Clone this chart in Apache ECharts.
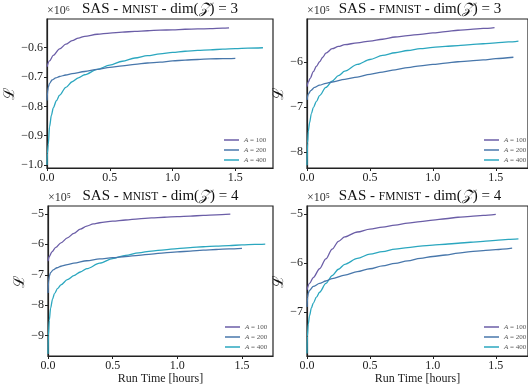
<!DOCTYPE html>
<html>
<head>
<meta charset="utf-8">
<script src="https://cdn.jsdelivr.net/npm/echarts@6/dist/echarts.min.js"></script>
<style>
  html, body { margin: 0; padding: 0; background: #fff; }
  #chart { width: 528px; height: 387px; }
</style>
</head>
<body>
<div id="chart"></div>
<script>
// Run time in hours, loss in units of the panel multiplier (x10^6 or x10^5)
const MNIST3_T100 = [0, 0.02, 0.05, 0.1, 0.15, 0.2, 0.25, 0.3, 0.4, 0.5, 0.6, 0.7, 0.8, 0.9, 1.0, 1.1, 1.2, 1.3, 1.4, 1.45];
const MNIST3_L100 = [-0.665, -0.645, -0.626, -0.604, -0.588, -0.576, -0.567, -0.561, -0.554, -0.550, -0.547, -0.544, -0.542, -0.540, -0.539, -0.537, -0.536, -0.535, -0.533, -0.532];
const MNIST3_T200 = [0, 0.005, 0.01, 0.02, 0.04, 0.07, 0.1, 0.15, 0.2, 0.3, 0.4, 0.5, 0.6, 0.7, 0.8, 0.9, 1.0, 1.1, 1.2, 1.3, 1.4, 1.5];
const MNIST3_L200 = [-0.78, -0.75, -0.735, -0.722, -0.71, -0.703, -0.698, -0.693, -0.688, -0.681, -0.674, -0.667, -0.662, -0.657, -0.652, -0.649, -0.645, -0.642, -0.640, -0.638, -0.637, -0.636];
const MNIST3_T400 = [0, 0.003, 0.01, 0.02, 0.035, 0.05, 0.075, 0.1, 0.15, 0.2, 0.25, 0.3, 0.4, 0.5, 0.6, 0.7, 0.8, 0.9, 1.0, 1.1, 1.2, 1.3, 1.4, 1.5, 1.6, 1.72];
const MNIST3_L400 = [-1.0, -0.96, -0.93, -0.87, -0.83, -0.805, -0.78, -0.762, -0.735, -0.716, -0.703, -0.692, -0.674, -0.659, -0.646, -0.635, -0.627, -0.621, -0.616, -0.612, -0.609, -0.607, -0.605, -0.603, -0.601, -0.600];

const FMNIST3_T100 = [0, 0.01, 0.025, 0.05, 0.075, 0.1, 0.125, 0.15, 0.2, 0.25, 0.3, 0.4, 0.5, 0.6, 0.7, 0.8, 0.9, 1.0, 1.1, 1.2, 1.3, 1.4, 1.49];
const FMNIST3_L100 = [-6.55, -6.45, -6.37, -6.22, -6.1, -6.0, -5.9, -5.81, -5.71, -5.66, -5.62, -5.58, -5.54, -5.50, -5.45, -5.42, -5.39, -5.36, -5.33, -5.30, -5.28, -5.26, -5.24];
const FMNIST3_T200 = [0, 0.01, 0.03, 0.06, 0.1, 0.15, 0.2, 0.3, 0.4, 0.5, 0.6, 0.7, 0.8, 0.9, 1.0, 1.1, 1.2, 1.3, 1.4, 1.5, 1.64];
const FMNIST3_L200 = [-6.85, -6.72, -6.64, -6.57, -6.52, -6.48, -6.45, -6.39, -6.34, -6.28, -6.23, -6.18, -6.13, -6.09, -6.06, -6.03, -6.00, -5.98, -5.96, -5.93, -5.90];
const FMNIST3_T400 = [0, 0.005, 0.01, 0.02, 0.035, 0.05, 0.075, 0.1, 0.15, 0.2, 0.25, 0.3, 0.4, 0.5, 0.6, 0.7, 0.8, 0.9, 1.0, 1.1, 1.2, 1.3, 1.4, 1.5, 1.6, 1.68];
const FMNIST3_L400 = [-8.3, -7.8, -7.55, -7.36, -7.15, -7.02, -6.88, -6.75, -6.57, -6.43, -6.31, -6.21, -6.06, -5.95, -5.86, -5.80, -5.75, -5.71, -5.68, -5.66, -5.64, -5.62, -5.60, -5.58, -5.56, -5.54];

const MNIST4_T100 = [0, 0.01, 0.03, 0.06, 0.1, 0.15, 0.2, 0.25, 0.3, 0.35, 0.4, 0.5, 0.6, 0.7, 0.8, 0.9, 1.0, 1.1, 1.2, 1.3, 1.41];
const MNIST4_L100 = [-6.55, -6.4, -6.25, -6.1, -5.95, -5.79, -5.64, -5.5, -5.4, -5.33, -5.29, -5.24, -5.2, -5.16, -5.13, -5.11, -5.09, -5.07, -5.05, -5.03, -5.01];
const MNIST4_T200 = [0, 0.005, 0.01, 0.02, 0.04, 0.07, 0.1, 0.15, 0.2, 0.3, 0.4, 0.5, 0.6, 0.7, 0.8, 0.9, 1.0, 1.1, 1.2, 1.3, 1.4, 1.5];
const MNIST4_L200 = [-7.6, -7.2, -7.05, -6.93, -6.84, -6.77, -6.72, -6.67, -6.62, -6.54, -6.48, -6.44, -6.40, -6.36, -6.32, -6.28, -6.25, -6.22, -6.19, -6.17, -6.15, -6.13];
const MNIST4_T400 = [0, 0.003, 0.01, 0.02, 0.035, 0.05, 0.075, 0.1, 0.15, 0.2, 0.25, 0.3, 0.4, 0.5, 0.6, 0.7, 0.8, 0.9, 1.0, 1.1, 1.2, 1.3, 1.4, 1.5, 1.6, 1.68];
const MNIST4_L400 = [-9.6, -9.0, -8.5, -8.1, -7.8, -7.62, -7.45, -7.33, -7.16, -7.03, -6.91, -6.80, -6.62, -6.47, -6.36, -6.28, -6.22, -6.18, -6.14, -6.11, -6.08, -6.06, -6.04, -6.02, -6.0, -5.99];

const FMNIST4_T100 = [0, 0.02, 0.05, 0.1, 0.15, 0.2, 0.25, 0.3, 0.4, 0.5, 0.6, 0.7, 0.8, 0.9, 1.0, 1.1, 1.2, 1.3, 1.4, 1.5];
const FMNIST4_L100 = [-6.55, -6.42, -6.3, -6.12, -5.92, -5.72, -5.56, -5.47, -5.37, -5.31, -5.27, -5.23, -5.19, -5.16, -5.13, -5.10, -5.07, -5.05, -5.03, -5.01];
const FMNIST4_T200 = [0, 0.005, 0.01, 0.02, 0.05, 0.1, 0.15, 0.2, 0.3, 0.4, 0.5, 0.6, 0.7, 0.8, 0.9, 1.0, 1.1, 1.2, 1.3, 1.4, 1.5, 1.63];
const FMNIST4_L200 = [-6.9, -6.7, -6.62, -6.56, -6.48, -6.42, -6.37, -6.32, -6.25, -6.18, -6.12, -6.06, -6.01, -5.96, -5.91, -5.87, -5.84, -5.80, -5.77, -5.75, -5.73, -5.70];
const FMNIST4_T400 = [0, 0.003, 0.01, 0.02, 0.035, 0.05, 0.075, 0.1, 0.15, 0.2, 0.25, 0.3, 0.4, 0.5, 0.6, 0.7, 0.8, 0.9, 1.0, 1.1, 1.2, 1.3, 1.4, 1.5, 1.6, 1.68];
const FMNIST4_L400 = [-7.85, -7.5, -7.25, -7.08, -6.92, -6.82, -6.7, -6.6, -6.42, -6.26, -6.13, -6.03, -5.91, -5.82, -5.77, -5.72, -5.69, -5.66, -5.64, -5.62, -5.6, -5.58, -5.56, -5.54, -5.52, -5.51];

const SERIES_NAMES = ['A = 100', 'A = 200', 'A = 400'];
const X_TICKS = [0, 0.5, 1.0, 1.5];
const MNIST3_YTICKS = [-1.0, -0.9, -0.8, -0.7, -0.6];
const FMNIST3_YTICKS = [-8, -7, -6];
const MNIST4_YTICKS = [-9, -8, -7, -6, -5];
const FMNIST4_YTICKS = [-7, -6, -5];

const COLORS = ['#6b5ea7', '#4877ab', '#2ba7bf'];
const SERIF = "'Liberation Serif', 'DejaVu Serif', serif";

const panels = [
  { ds: 'MNIST', dim: 3, mult: '6', rect: { left: 47, top: 19, width: 226, height: 149 },
    xMax: 1.80, yMin: -1.01, yMax: -0.502, yTicks: MNIST3_YTICKS, dec: 1, nameGap: 27, xName: false,
    runs: [[MNIST3_T100, MNIST3_L100], [MNIST3_T200, MNIST3_L200], [MNIST3_T400, MNIST3_L400]] },
  { ds: 'FMNIST', dim: 3, mult: '5', rect: { left: 307, top: 19, width: 226, height: 149 },
    xMax: 1.756, yMin: -8.36, yMax: -5.05, yTicks: FMNIST3_YTICKS, dec: 0, nameGap: 19, xName: false,
    runs: [[FMNIST3_T100, FMNIST3_L100], [FMNIST3_T200, FMNIST3_L200], [FMNIST3_T400, FMNIST3_L400]] },
  { ds: 'MNIST', dim: 4, mult: '5', rect: { left: 48, top: 206, width: 225, height: 150 },
    xMax: 1.74, yMin: -9.67, yMax: -4.74, yTicks: MNIST4_YTICKS, dec: 0, nameGap: 20, xName: true,
    runs: [[MNIST4_T100, MNIST4_L100], [MNIST4_T200, MNIST4_L200], [MNIST4_T400, MNIST4_L400]] },
  { ds: 'FMNIST', dim: 4, mult: '5', rect: { left: 307, top: 206, width: 226, height: 150 },
    xMax: 1.756, yMin: -7.9, yMax: -4.84, yTicks: FMNIST4_YTICKS, dec: 0, nameGap: 17, xName: true,
    runs: [[FMNIST4_T100, FMNIST4_L100], [FMNIST4_T200, FMNIST4_L200], [FMNIST4_T400, FMNIST4_L400]] },
];

const fmt = (v, dec) => (v < 0 ? '\u2212' : '') + Math.abs(v).toFixed(dec);

const chart = echarts.init(document.getElementById('chart'), null, { renderer: 'canvas' });

const option = {
  backgroundColor: '#fff',
  animation: false,
  title: panels.map(p => ({
    text: `SAS - {sc|${p.ds}} - dim({z|\u{1D4B5}}) = ${p.dim}`,
    left: p.rect.left + p.rect.width / 2,
    textAlign: 'center',
    top: p.rect.top - 17,
    padding: 0,
    textStyle: {
      fontFamily: SERIF, fontSize: 15, fontWeight: 'normal', color: '#111',
      rich: {
        sc: { fontFamily: SERIF, fontSize: 11.5, color: '#111' },
        z: { fontFamily: SERIF, fontSize: 15, fontStyle: 'italic', color: '#111' },
      },
    },
  })),
  grid: panels.map(p => ({
    left: p.rect.left, top: p.rect.top, width: p.rect.width, height: p.rect.height,
    show: true, borderColor: '#222', borderWidth: 1.2, backgroundColor: 'transparent',
  })),
  xAxis: panels.map((p, i) => ({
    type: 'value', gridIndex: i, min: 0, max: p.xMax,
    name: p.xName ? 'Run Time [hours]' : '',
    nameLocation: 'middle', nameGap: 16,
    nameTextStyle: { fontFamily: SERIF, fontSize: 12, color: '#222' },
    axisLine: { show: true, lineStyle: { color: '#222', width: 1.2 } },
    axisTick: { show: true, length: 3, inside: false, customValues: X_TICKS, lineStyle: { color: '#222' } },
    axisLabel: { customValues: X_TICKS, margin: 4, fontFamily: SERIF, fontSize: 12, color: '#222',
      formatter: v => v.toFixed(1) },
    splitLine: { show: false },
  })),
  yAxis: panels.map((p, i) => ({
    type: 'value', gridIndex: i, min: p.yMin, max: p.yMax,
    name: '\u2112', nameLocation: 'middle', nameGap: p.nameGap, nameRotate: 90,
    nameTextStyle: { fontFamily: SERIF, fontSize: 15, color: '#111' },
    axisLine: { show: true, lineStyle: { color: '#222', width: 1.2 } },
    axisTick: { show: true, length: 3, inside: false, customValues: p.yTicks, lineStyle: { color: '#222' } },
    axisLabel: { customValues: p.yTicks, margin: 4, fontFamily: SERIF, fontSize: 12, color: '#222',
      formatter: v => fmt(v, p.dec) },
    splitLine: { show: false },
  })),
  legend: panels.map(p => ({
    data: SERIES_NAMES,
    orient: 'vertical',
    left: p.rect.left + 177,
    top: p.rect.top + 117,
    icon: 'rect',
    itemWidth: 15, itemHeight: 2, itemGap: 2,
    padding: 0,
    itemStyle: { opacity: 0.75 },
    formatter: n => '{i|A}' + n.slice(1),
    textStyle: {
      fontFamily: SERIF, fontSize: 7, lineHeight: 8, color: '#555',
      rich: { i: { fontFamily: SERIF, fontSize: 7, lineHeight: 8, fontStyle: 'italic', color: '#555' } },
    },
  })),
  graphic: panels.map(p => ({
    type: 'text', left: p.rect.left, top: p.rect.top - 14,
    style: { text: '\u00d710' + (p.mult === '6' ? '\u2076' : '\u2075'), font: `12px ${SERIF}`, fill: '#333' },
  })),
  series: [],
};

panels.forEach((p, i) => {
  p.runs.forEach(([t, l], k) => {
    option.series.push({
      name: SERIES_NAMES[k],
      type: 'line',
      xAxisIndex: i, yAxisIndex: i,
      data: t.map((x, j) => [x, l[j]]),
      symbol: 'none', showSymbol: false,
      smooth: 0.3, smoothMonotone: 'x',
      color: COLORS[k],
      lineStyle: { width: 1.3, color: COLORS[k] },
      z: 3 - k,
    });
  });
});

chart.setOption(option);
</script>
</body>
</html>
